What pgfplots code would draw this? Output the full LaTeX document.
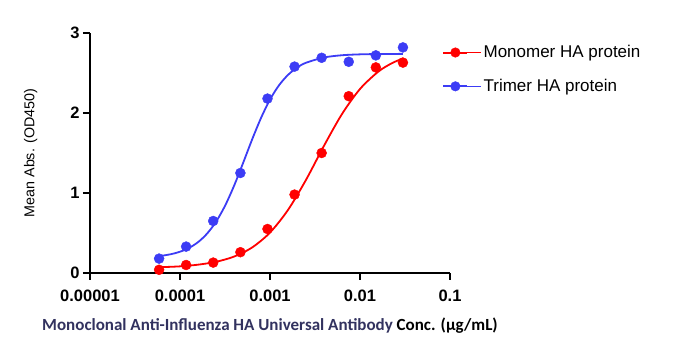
\documentclass[border=0pt]{standalone}
\usepackage{pgfplots}
\pgfplotsset{compat=1.18}
\usepackage{fontspec}
\setmainfont{Liberation Sans}
\newfontfamily\carlito{Carlito}
\definecolor{myred}{RGB}{255,0,0}
\definecolor{myblue}{RGB}{60,60,245}
\definecolor{lblue}{RGB}{50,50,95}
\begin{document}
\begin{tikzpicture}[x=1pt,y=1pt]
\path[use as bounding box] (-90,-79) rectangle (593,273);
\begin{axis}[
  at={(0,0)}, anchor=south west,
  scale only axis, width=360pt, height=240pt,
  xmode=log, log basis x=10,
  xmin=1e-5, xmax=0.1, ymin=0, ymax=3,
  axis x line*=bottom, axis y line*=left,
  axis line style={-, line width=2.8pt, black},
  tick style={line width=2.4pt, black},
  tick align=outside, major tick length=7pt,
  xminorticks=false,
  xtick={1e-5,1e-4,1e-3,1e-2,1e-1},
  xticklabels={0.00001,0.0001,0.001,0.01,0.1},
  ytick={0,1,2,3},
  yticklabel style={font=\bfseries\fontsize{16.5}{16}\selectfont, xshift=0pt},
  xticklabel style={font=\bfseries\fontsize{16.5}{16}\selectfont, yshift=-6pt},
  /pgf/number format/assume math mode=true,
  ylabel={Mean Abs. (OD450)},
  ylabel style={font=\fontsize{14.3}{15}\selectfont, yshift=26pt},
  xlabel={{\color{lblue}Monoclonal Anti-Influenza HA Universal Antibody} Conc. (\textmu g/mL)},
  xlabel style={font=\carlito\bfseries\fontsize{17}{17}\selectfont, yshift=-10pt},
  clip=false,
  legend style={at={(0.97,0.965)}, anchor=north west, draw=none, fill=none,
    font=\fontsize{17}{17}\selectfont, row sep=16pt,
    legend cell align=left},
  legend image code/.code={
    \draw[#1, line width=2pt] (0pt,0pt) -- (24pt,0pt);
    \fill[#1] (12pt,0pt) circle (4.8pt);
    \path (0pt,0pt) -- (38pt,0pt);
  },
]
% legend entries
\addlegendimage{myred}
\addlegendentry{Monomer HA protein}
\addlegendimage{myblue}
\addlegendentry{Trimer HA protein}

% fitted curves
\addplot[myred, line width=1.8pt, smooth, forget plot] coordinates {
(5.86e-5,0.072) (1e-4,0.083) (1.585e-4,0.104) (2.512e-4,0.140) (3.981e-4,0.205)
(6.310e-4,0.318) (1e-3,0.505) (1.585e-3,0.788) (2.512e-3,1.164) (3.981e-3,1.590)
(6.310e-3,1.987) (1e-2,2.300) (1.585e-2,2.514) (2.239e-2,2.620) (3.0e-2,2.682)
};
\addplot[myblue, line width=1.8pt, smooth, forget plot] coordinates {
(5.86e-5,0.210) (7.94e-5,0.235) (1e-4,0.266) (1.259e-4,0.313) (1.585e-4,0.385)
(1.995e-4,0.491) (2.512e-4,0.640) (3.162e-4,0.839) (3.981e-4,1.088) (5.012e-4,1.372)
(6.310e-4,1.665) (7.943e-4,1.937) (1e-3,2.168) (1.259e-3,2.346) (1.585e-3,2.476)
(1.995e-3,2.567) (2.512e-3,2.628) (3.981e-3,2.694) (6.310e-3,2.722) (1e-2,2.733)
(1.585e-2,2.737) (3.0e-2,2.739)
};
% data points
\addplot[only marks, mark=*, mark size=5pt, myred, forget plot] coordinates {
(5.86e-5,0.04) (1.17e-4,0.10) (2.34e-4,0.13) (4.69e-4,0.26) (9.38e-4,0.55)
(1.875e-3,0.98) (3.75e-3,1.50) (7.5e-3,2.21) (0.015,2.57) (0.03,2.63)
};
\addplot[only marks, mark=*, mark size=5pt, myblue, forget plot] coordinates {
(5.86e-5,0.18) (1.17e-4,0.33) (2.34e-4,0.65) (4.69e-4,1.25) (9.38e-4,2.18)
(1.875e-3,2.58) (3.75e-3,2.69) (7.5e-3,2.64) (0.015,2.72) (0.03,2.82)
};
\end{axis}
\end{tikzpicture}
\end{document}
